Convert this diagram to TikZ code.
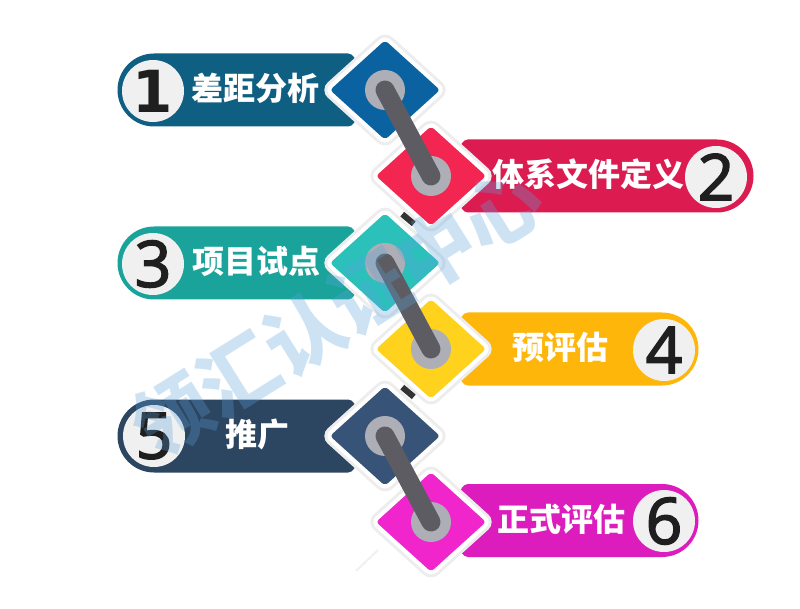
\documentclass[tikz,border=0pt]{standalone}
\usepackage{fontspec}
\newfontfamily\cjk{Noto Sans CJK SC}
\newfontfamily\numfont{Open Sans}[FakeBold=2.5]
\newfontfamily\onefont{DejaVu Sans}
\usetikzlibrary{shapes.geometric}

\definecolor{pillA}{HTML}{0F5F82}
\definecolor{diaA}{HTML}{0B62A0}
\definecolor{pillB}{HTML}{DC1C50}
\definecolor{diaB}{HTML}{F22650}
\definecolor{pillC}{HTML}{1AA39A}
\definecolor{diaC}{HTML}{2BC0BA}
\definecolor{pillD}{HTML}{FFB60A}
\definecolor{diaD}{HTML}{FFD21E}
\definecolor{pillE}{HTML}{2C4560}
\definecolor{diaE}{HTML}{375378}
\definecolor{pillF}{HTML}{DC1CBC}
\definecolor{diaF}{HTML}{F025CC}
\definecolor{stickgrey}{HTML}{5C5C62}
\definecolor{hubgrey}{HTML}{AEAEB6}
\definecolor{markblue}{HTML}{5BA3DC}

\tikzset{
    diabox/.style={diamond, aspect=1.1, minimum width=118pt, minimum height=107pt, inner sep=0pt,
        rounded corners=6pt, fill=#1, draw=white, line width=4pt,
        preaction={draw=black!7, line width=10pt}},
    hub/.style={circle, fill=hubgrey, minimum size=40pt, inner sep=0pt},
    stick/.style={draw=stickgrey, line width=19pt, line cap=round},
    numdisc/.style={circle, fill=black!6, minimum size=62pt, inner sep=0pt},
    numtext/.style={font=\numfont\fontsize{64}{64}\selectfont, text=black!88, inner sep=0pt},
    label/.style={font=\cjk\bfseries\fontsize{32}{32}\selectfont, text=white, inner sep=0pt},
    tick/.style={fill=black!80, minimum width=15pt, minimum height=6pt, inner sep=0pt, rotate=-40},
    watermark/.style={font=\cjk\bfseries\fontsize{78}{78}\selectfont, text=markblue, text opacity=.3, rotate=32}
}

% pill that opens to the right, its end goes under the diamond
\newcommand{\pillleft}[2]{
    \fill[#2] (154,#1-36.5) [rounded corners=4pt] -- (352,#1-36.5) -- (372,#1) -- (352,#1+36.5)
        [sharp corners] -- (154,#1+36.5) arc (90:270:36.5) -- cycle;
}
\newcommand{\pillright}[3]{
    \fill[#3] (#2-37,#1-36.5) arc (-90:90:36.5) [rounded corners=4pt] -- (464,#1+36.5) -- (444,#1) -- (464,#1-36.5)
        [sharp corners] -- cycle;
}

\begin{document}
\begin{tikzpicture}[x=1pt,y=-1pt]
    \useasboundingbox (0,0) rectangle (800,609);

    \pillleft{90}{pillA}
    \pillright{176}{754}{pillB}
    \pillleft{263}{pillC}
    \pillright{349}{699}{pillD}
    \pillleft{436}{pillE}
    \pillright{520.5}{699}{pillF}

    % diamonds and the grey hubs on them
    \foreach \name/\x/\y/\col in {a/385/90/diaA, b/431/176/diaB, c/385/263/diaC, d/431/349/diaD, e/385/436/diaE, f/431/522/diaF}{
        \node[diabox=\col] (dia\name) at (\x,\y) {};
        \node[hub] (hub\name) at (\x,\y) {};
    }

    \node[tick] (tickA) at (408,219) {};
    \node[tick] (tickB) at (408,392) {};

    \draw[stick] (huba.center) -- (hubb.center);
    \draw[stick] (hubc.center) -- (hubd.center);
    \draw[stick] (hube.center) -- (hubf.center);

    % faint stroke under the last diamond
    \coordinate (faintA) at (356,571);
    \coordinate (faintB) at (378,550);
    \draw[black!6, line width=2pt] (faintA) -- (faintB);

    % number discs
    \foreach \n/\x/\y in {1/153/91, 2/716/177, 3/153/264, 4/664/350, 5/154/436, 6/664/521}{
        \node[numdisc] (disc\n) at (\x,\y) {};
    }
    \node[numtext, font=\onefont\bfseries\fontsize{58}{58}\selectfont] (num1) at (disc1) {1};
    \node[numtext] (num2) at (disc2) {2};
    \node[numtext] (num3) at (disc3) {3};
    \node[numtext] (num4) at (disc4) {4};
    \node[numtext] (num5) at (disc5) {5};
    \node[numtext] (num6) at (disc6) {6};

    \node[label] (textA) at (255,88) {差距分析};
    \node[label] (textB) at (588,174) {体系文件定义};
    \node[label] (textC) at (256,261) {项目试点};
    \node[label] (textD) at (560,347) {预评估};
    \node[label] (textE) at (257,434) {推广};
    \node[label] (textF) at (561,519) {正式评估};

    \node[watermark] (mark) at (337,313) {领汇认证中心};
\end{tikzpicture}
\end{document}
